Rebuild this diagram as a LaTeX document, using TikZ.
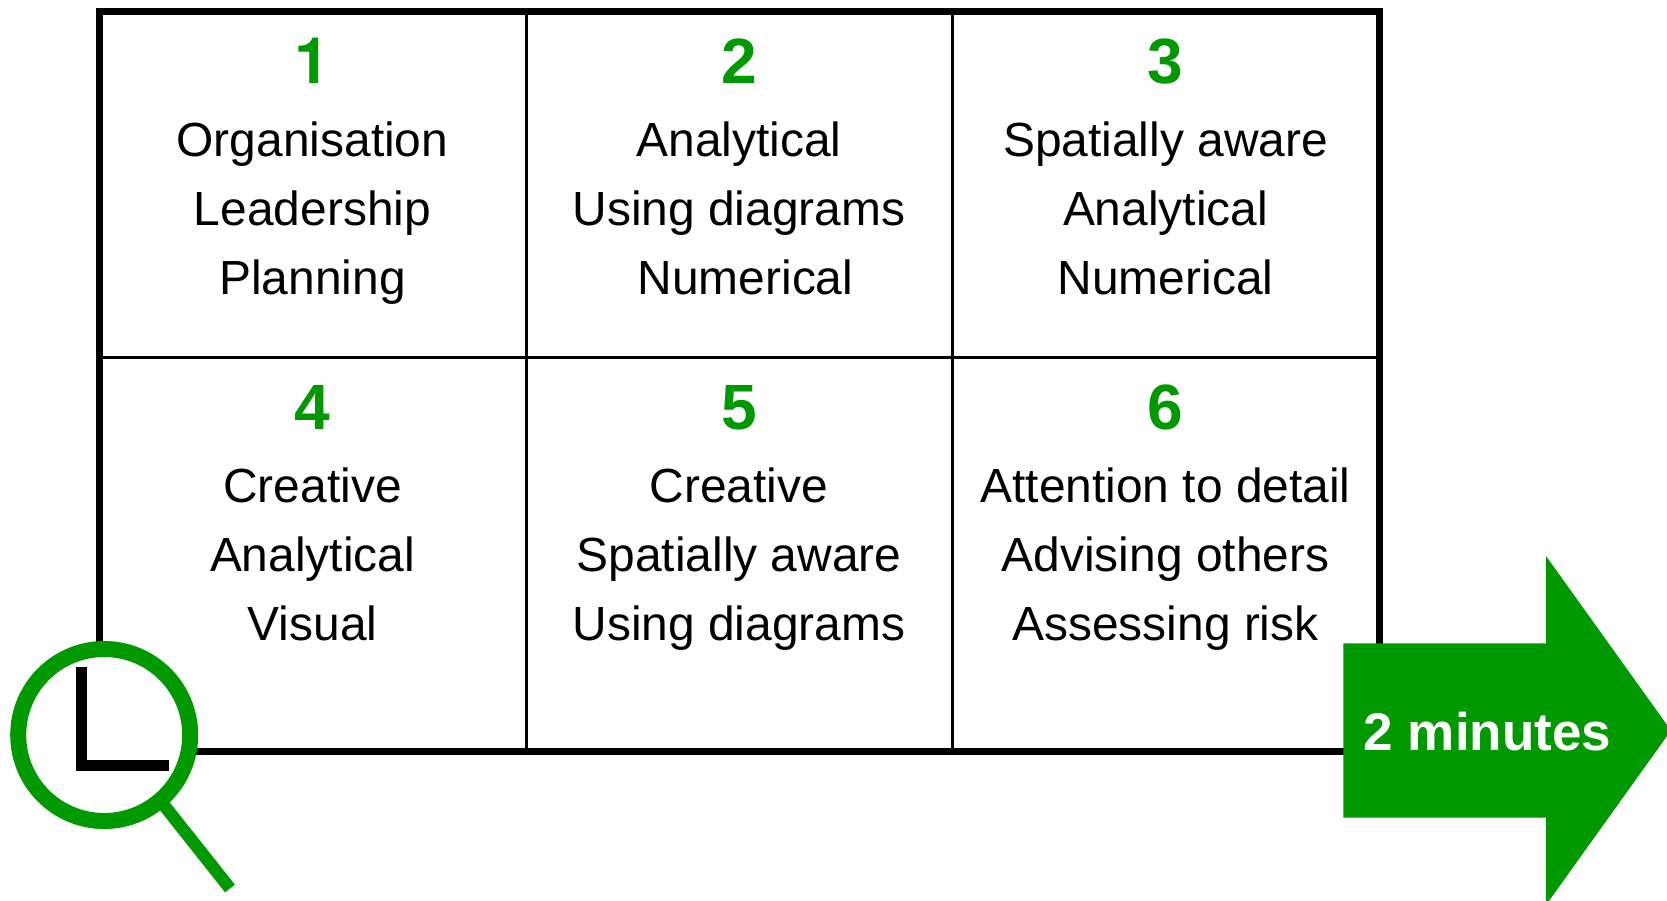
\documentclass[tikz,border=0pt]{standalone}
\usepackage{fontspec}
\setmainfont{Liberation Sans}
\newfontfamily\heros{TeX Gyre Heros}
\definecolor{grn}{HTML}{009900}
\tikzset{
  x=1bp,y=-1bp,
  num/.style={anchor=base,inner sep=0pt,text=grn,font=\fontsize{64bp}{64bp}\selectfont\bfseries},
  txt/.style={anchor=base,inner sep=0pt,text=black,font=\fontsize{47.9bp}{47.9bp}\selectfont},
  outer/.style={draw=black,line width=7bp,miter limit=10},
  inner/.style={draw=black,line width=3bp},
  lens/.style={draw=grn,line width=16bp,fill=white},
  handle/.style={draw=grn,line width=12.5bp},
  hands/.style={draw=black,line width=11bp,miter limit=10},
  arrowshape/.style={fill=grn,draw=none},
  arrowtext/.style={anchor=base,inner sep=0pt,text=white,font=\fontsize{53bp}{53bp}\selectfont\bfseries}
}
\begin{document}
\begin{tikzpicture}
\useasboundingbox (0,0) rectangle (1667,900);
\clip (0,0) rectangle (1667,900);
\fill[white] (0,0) rectangle (1667,900);
% grid
\draw[inner] (526.5,11.5) -- (526.5,751.3);
\draw[inner] (952.5,11.5) -- (952.5,751.3);
\draw[inner] (99.5,357.2) -- (1379,357.2);
\draw[outer] (99.5,11.5) rectangle (1379,751.3);
% row 1
\node[num] (n1) at (312.5,83) {\heros 1};
\node[txt] (a1) at (312.5,156) {Organisation};
\node[txt] (a2) at (312.5,225) {Leadership};
\node[txt] (a3) at (312.5,294) {Planning};
\node[num] (n2) at (739,83) {2};
\node[txt] (b1) at (739,156) {Analytical};
\node[txt] (b2) at (739,225) {Using diagrams};
\node[txt] (b3) at (745.5,294) {Numerical};
\node[num] (n3) at (1165.5,83) {3};
\node[txt] (c1) at (1165.5,156) {Spatially aware};
\node[txt] (c2) at (1165.5,225) {Analytical};
\node[txt] (c3) at (1165.5,294) {Numerical};
% row 2
\node[num] (n4) at (312.5,429.5) {4};
\node[txt] (d1) at (312.5,502.5) {Creative};
\node[txt] (d2) at (312.5,571.5) {Analytical};
\node[txt] (d3) at (312.5,640.5) {Visual};
\node[num] (n5) at (739,429.5) {5};
\node[txt] (e1) at (739,502.5) {Creative};
\node[txt] (e2) at (739,571.5) {Spatially aware};
\node[txt] (e3) at (739,640.5) {Using diagrams};
\node[num] (n6) at (1165.5,429.5) {6};
\node[txt] (f1) at (1165.5,502.5) {Attention to detail};
\node[txt] (f2) at (1165.5,571.5) {Advising others};
\node[txt] (f3) at (1165.5,640.5) {Assessing risk};
% clock lens
\draw[handle] (163,804) -- (230,888.5);
\draw[lens] (104.2,735) circle (86);
\draw[hands] (81.5,666.7) -- (81.5,765.5) -- (169,765.5);
% arrow
\fill[arrowshape] (1343.3,643.3) -- (1546,643.3) -- (1546,556) -- (1671,730.5) -- (1546,905) -- (1546,817.7) -- (1343.3,817.7) -- cycle;
\node[arrowtext] (t) at (1487.5,750) {2 minutes};
\end{tikzpicture}
\end{document}
